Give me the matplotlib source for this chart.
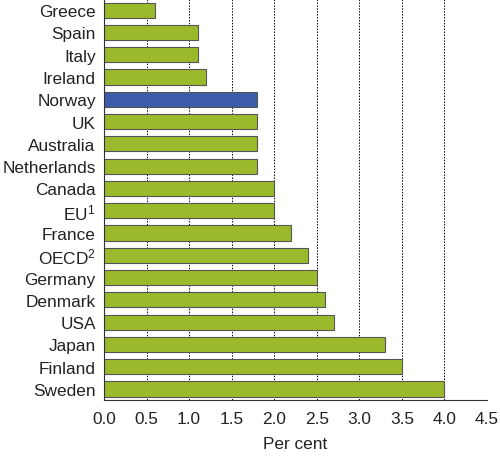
import numpy as np
import matplotlib.pyplot as plt

plt.rcParams['font.family'] = ['Liberation Sans', 'DejaVu Sans']
plt.rcParams['mathtext.fontset'] = 'custom'
plt.rcParams['mathtext.rm'] = 'Liberation Sans'

countries = ['Greece', 'Spain', 'Italy', 'Ireland', 'Norway', 'UK', 'Australia',
             'Netherlands', 'Canada', 'EU$\\mathrm{^1}$', 'France', 'OECD$\\mathrm{^2}$',
             'Germany', 'Denmark', 'USA', 'Japan', 'Finland', 'Sweden']
values = [0.6, 1.1, 1.1, 1.2, 1.8, 1.8, 1.8, 1.8, 2.0, 2.0, 2.2, 2.4, 2.5,
          2.6, 2.7, 3.3, 3.5, 4.0]
highlight = 'Norway'
xticks = [0.0, 0.5, 1.0, 1.5, 2.0, 2.5, 3.0, 3.5, 4.0, 4.5]

green = '#9aba2c'
blue = '#3b5ca8'

fig = plt.figure(figsize=(5, 4.6), dpi=100)
ax = fig.add_axes([0.208, 0.128, 0.766, 0.872])

y = np.arange(len(countries))
colors = [blue if c == highlight else green for c in countries]
ax.barh(y, values, height=0.68, color=colors, edgecolor='#555555',
        linewidth=0.8, zorder=3)

ax.set_ylim(len(countries) - 0.5, -0.5)
ax.set_yticks(y)
ax.set_yticklabels(countries, fontsize=12.4, color='#222222')
ax.set_xlim(0, 4.5)
ax.set_xticks(xticks)
ax.set_xticklabels(['%.1f' % t for t in xticks], fontsize=12.4, color='#222222')
ax.set_xlabel('Per cent', fontsize=12.4, labelpad=7, color='#222222')

ax.xaxis.grid(True, color='black', linestyle=(0, (1.5, 1.5)), linewidth=0.7, zorder=0)
ax.tick_params(axis='y', length=0, pad=6)
ax.tick_params(axis='x', length=0, pad=8)
for s in ['top', 'right']:
    ax.spines[s].set_visible(False)
ax.spines['left'].set_color('#333333')
ax.spines['bottom'].set_color('#333333')
ax.spines['left'].set_zorder(4)

fig.savefig('out.png', dpi=100)
